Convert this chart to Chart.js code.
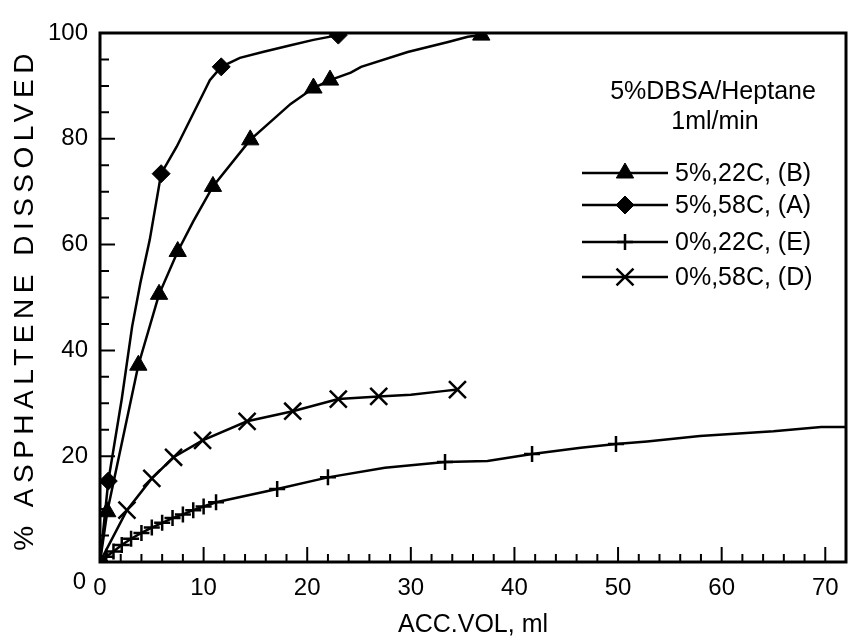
<!DOCTYPE html>
<html>
<head>
<meta charset="utf-8">
<script src="https://cdn.jsdelivr.net/npm/chart.js@4.4.1/dist/chart.umd.min.js"></script>
<style>
  html, body { margin: 0; padding: 0; background: #fff; }
  #wrap { width: 849px; height: 640px; }
</style>
</head>
<body>
<div id="wrap"><canvas id="chart" width="849" height="640"></canvas></div>
<script>
// values: accumulated volume (ml) vs % asphaltene dissolved
// symbols
const xB = [0, 0.7, 3.7, 5.7, 7.5, 10.9, 14.5, 20.6, 22.2, 36.8];
const yB = [0, 9.5, 37.2, 50.6, 58.7, 71.0, 79.8, 89.6, 91.1, 99.6];
// points along the curve between symbols
const xBLine = [9.0, 18.4, 24.2, 25.2, 29.7, 33.6, 35.5];
const yBLine = [64.4, 86.6, 92.5, 93.6, 96.4, 98.3, 99.3];

const xA = [0, 0.8, 5.9, 11.7, 23.0];
const yA = [0, 15.3, 73.4, 93.6, 99.6];
const xALine = [2.1, 3.1, 3.9, 4.8, 7.4, 8.7, 10.0, 10.6, 13.5, 15.7, 18.4, 20.6];
const yALine = [30.8, 44.5, 52.8, 60.9, 78.5, 83.6, 88.7, 91.1, 95.3, 96.4, 97.7, 98.7];

const xE = [0, 0.6, 1.3, 2.1, 3.0, 4.0, 5.0, 6.0, 7.0, 8.0, 9.0, 10.0, 11.2, 17.1, 22.0, 33.3, 41.7, 49.8];
const yE = [0, 1.0, 2.0, 3.2, 4.4, 5.5, 6.5, 7.4, 8.3, 9.0, 9.8, 10.5, 11.3, 13.8, 16.0, 18.9, 20.4, 22.3];
const xELine = [27.5, 37.4, 46.4, 52.8, 57.9, 65.0, 69.6, 72];
const yELine = [17.8, 19.1, 21.6, 22.8, 23.8, 24.7, 25.5, 25.5];

const xD = [0, 2.6, 5.0, 7.1, 9.9, 14.2, 18.6, 23.0, 26.9, 34.5];
const yD = [0, 9.8, 15.8, 19.8, 23.0, 26.6, 28.5, 30.8, 31.3, 32.6];
const xDLine = [30.0, 33.1];
const yDLine = [31.6, 32.3];

const seriesLabels = ["5%,22C, (B)", "5%,58C, (A)", "0%,22C, (E)", "0%,58C, (D)"];
const legendTitle = ["5%DBSA/Heptane", "1ml/min"];
const xMajor = [0, 10, 20, 30, 40, 50, 60, 70];
const yMajor = [0, 20, 40, 60, 80, 100];

const FONT = "'Liberation Sans', Arial, Helvetica, sans-serif";

function pts(xs, ys) {
    return xs.map((x, i) => ({ x: x, y: ys[i] }));
}
function curve(xs, ys, xs2, ys2) {
    return pts(xs.concat(xs2), ys.concat(ys2)).sort((a, b) => a.x - b.x);
}

const styles = [
    { pointStyle: "triangle", radius: 10, borderWidth: 1 },
    { pointStyle: "rectRot", radius: 9, borderWidth: 1 },
    { pointStyle: "cross", radius: 8, borderWidth: 2.5 },
    { pointStyle: "crossRot", radius: 12, borderWidth: 2.5 },
];

function lineSet(data) {
    return {
        data: data, showLine: true, borderColor: "#000", borderWidth: 2.5,
        pointRadius: 0, fill: false, tension: 0,
    };
}
function markSet(data, st) {
    return {
        data: data, showLine: false, pointStyle: st.pointStyle, pointRadius: st.radius,
        pointBorderWidth: st.borderWidth, pointBackgroundColor: "#000", pointBorderColor: "#000",
    };
}

const datasets = [
    lineSet(curve(xB, yB, xBLine, yBLine)),
    lineSet(curve(xA, yA, xALine, yALine)),
    lineSet(curve(xE, yE, xELine, yELine)),
    lineSet(curve(xD, yD, xDLine, yDLine)),
    markSet(pts(xB, yB), styles[0]),
    markSet(pts(xA, yA), styles[1]),
    markSet(pts(xE, yE), styles[2]),
    markSet(pts(xD, yD), styles[3]),
];

// frame, inward ticks, titles and the legend box
const decorations = {
    id: "decorations",
    afterDraw(chart) {
        const { ctx, chartArea: a, scales } = chart;
        ctx.save();
        ctx.strokeStyle = "#000";
        ctx.lineWidth = 3;
        ctx.strokeRect(a.left, a.top, a.right - a.left, a.bottom - a.top);

        ctx.lineWidth = 2;
        ctx.beginPath();
        scales.x.ticks.forEach(t => {
            const px = scales.x.getPixelForValue(t.value);
            if (px <= a.left + 1 || px >= a.right - 1) return;
            const len = t.value % 10 === 0 ? 15 : 8;
            ctx.moveTo(px, a.bottom);
            ctx.lineTo(px, a.bottom - len);
        });
        scales.y.ticks.forEach(t => {
            const py = scales.y.getPixelForValue(t.value);
            if (py <= a.top + 1 || py >= a.bottom - 1) return;
            const len = t.value % 20 === 0 ? 15 : 9;
            ctx.moveTo(a.left, py);
            ctx.lineTo(a.left + len, py);
        });
        ctx.stroke();

        ctx.fillStyle = "#000";
        // the "0" of the y axis sits a little below the axis line in the original
        ctx.font = "24px " + FONT;
        ctx.textAlign = "right";
        ctx.textBaseline = "middle";
        ctx.fillText("0", a.left - 14, scales.y.getPixelForValue(0) + 20);

        // y title
        ctx.save();
        ctx.translate(25, (a.top + a.bottom) / 2 + 2);
        ctx.rotate(-Math.PI / 2);
        ctx.font = "28px " + FONT;
        ctx.letterSpacing = "5.5px";
        ctx.textAlign = "center";
        ctx.fillText("% ASPHALTENE DISSOLVED", 0, 0);
        ctx.restore();

        // legend
        ctx.font = "25px " + FONT;
        ctx.textAlign = "center";
        ctx.textBaseline = "middle";
        ctx.fillText(legendTitle[0], 713, 92);
        ctx.fillText(legendTitle[1], 715, 122);
        const rows = [173, 205, 242, 277];
        ctx.textAlign = "left";
        seriesLabels.forEach((label, i) => {
            const y = rows[i];
            ctx.lineWidth = 2.5;
            ctx.strokeStyle = "#000";
            ctx.beginPath();
            ctx.moveTo(582, y);
            ctx.lineTo(668, y);
            ctx.stroke();
            ctx.fillStyle = "#000";
            ctx.lineWidth = styles[i].borderWidth;
            Chart.helpers.drawPoint(ctx, {
                pointStyle: styles[i].pointStyle, radius: styles[i].radius,
                borderWidth: styles[i].borderWidth, rotation: 0,
            }, 625, y);
            ctx.fillText(label, 675, y + 1);
        });
        ctx.restore();
    },
};

new Chart(document.getElementById("chart"), {
    type: "scatter",
    data: { datasets: datasets },
    options: {
        responsive: false,
        animation: false,
        layout: { autoPadding: false, padding: { top: 33, right: 3, left: 0, bottom: 0 } },
        plugins: { legend: { display: false }, tooltip: { enabled: false } },
        scales: {
            x: {
                type: "linear", min: 0, max: 72,
                afterFit(s) { s.height = 78; s.paddingRight = 0; s.paddingLeft = 0; },
                grid: { display: false, drawTicks: false },
                border: { display: false },
                title: { display: true, text: "ACC.VOL, ml", color: "#000", font: { family: FONT, size: 25 }, padding: 0 },
                ticks: {
                    stepSize: 2, autoSkip: false, maxRotation: 0, padding: 12, color: "#000",
                    font: { family: FONT, size: 24 },
                    callback: v => xMajor.includes(v) ? String(v) : "",
                },
            },
            y: {
                type: "linear", min: 0, max: 100,
                afterFit(s) { s.width = 100; },
                grid: { display: false, drawTicks: false },
                border: { display: false },
                ticks: {
                    stepSize: 5, autoSkip: false, padding: 12, color: "#000",
                    font: { family: FONT, size: 24 },
                    callback: v => (yMajor.includes(v) && v !== 0) ? String(v) : "",
                },
            },
        },
    },
    plugins: [decorations],
});
</script>
</body>
</html>
